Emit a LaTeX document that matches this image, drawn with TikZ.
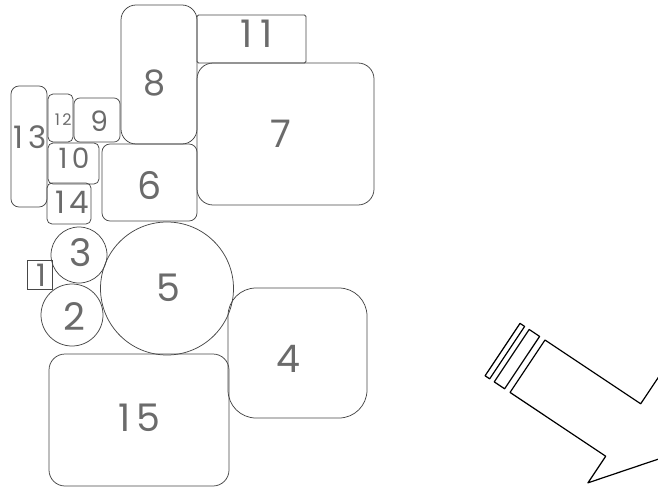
\documentclass[tikz,border=0pt]{standalone}
\usepackage{fontspec}
\setmainfont{Poppins}
\newfontfamily\digitfont{Poppins}[LetterSpace=15]
\begin{document}
\begin{tikzpicture}[x=1pt,y=-1pt,
  outline/.style={draw=black!72, line width=0.75pt, inner sep=0pt, outer sep=0pt},
  rbox/.style={outline, rectangle},
  rnd/.style={outline, circle},
  num/.style={inner sep=0pt, xshift=0.075*#1 pt, text=black!58, font=\digitfont\fontsize{#1}{#1}\selectfont},
  num/.default=38,
  arrowline/.style={draw=black, line width=1.2pt, line join=round}]
\useasboundingbox (0,0) rectangle (658,487);
\clip (0,0) rectangle (658,487);

% rounded blocks
\node[rbox, minimum width=25pt,  minimum height=29pt]                      (n1)  at (39.5,274.5) {};
\node[rnd,  minimum size=62pt]                                             (n2)  at (72,315) {};
\node[rnd,  minimum size=56pt]                                             (n3)  at (79,255) {};
\node[rbox, minimum width=139pt, minimum height=130pt, rounded corners=28pt] (n4)  at (297.5,353) {};
\node[rnd,  minimum size=133pt]                                            (n5)  at (167,288.5) {};
\node[rbox, minimum width=95pt,  minimum height=77pt,  rounded corners=8pt]  (n6)  at (149.5,182.5) {};
\node[rbox, minimum width=177pt, minimum height=142pt, rounded corners=16pt] (n7)  at (285.5,134) {};
\node[rbox, minimum width=76pt,  minimum height=139pt, rounded corners=15pt] (n8)  at (159,74.5) {};
\node[rbox, minimum width=46pt,  minimum height=44pt,  rounded corners=6pt]  (n9)  at (97,120) {};
\node[rbox, minimum width=51pt,  minimum height=41pt,  rounded corners=5pt]  (n10) at (73.5,163.5) {};
\node[rbox, minimum width=109pt, minimum height=48pt,  rounded corners=1.5pt] (n11) at (251.5,39) {};
\node[rbox, minimum width=25pt,  minimum height=48pt,  rounded corners=5pt]  (n12) at (60.5,118) {};
\node[rbox, minimum width=36pt,  minimum height=121pt, rounded corners=8pt]  (n13) at (29,146.5) {};
\node[rbox, minimum width=44pt,  minimum height=41pt,  rounded corners=5pt]  (n14) at (69,203.5) {};
\node[rbox, minimum width=180pt, minimum height=132pt, rounded corners=16pt] (n15) at (139,420) {};

% block numbers
\node[num=31] (t1)  at (39,275)  {1};
\node[num]    (t2)  at (72,317)  {2};
\node[num]    (t3)  at (78,253)  {3};
\node[num]    (t4)  at (286,359) {4};
\node[num]    (t5)  at (166,288) {5};
\node[num]    (t6)  at (147,186) {6};
\node[num]    (t7)  at (278,134) {7};
\node[num=35] (t8)  at (152,83)  {8};
\node[num=28] (t9)  at (97,121)  {9};
\node[num=28] (t10) at (72,158)  {10};
\node[num]    (t11) at (254,34)  {1\kern8pt 1};
\node[num=16] (t12) at (62,120)  {12};
\node[num=31] (t13) at (28,137)  {13};
\node[num=31] (t14) at (70,202)  {14};
\node[num]    (t15) at (137,418) {15};

% big arrow with two bands at its tail
\begin{scope}[shift={(545,340)}, rotate=-33.7]
  \draw[arrowline] (0,0) -- (115,0) -- (115,-32) -- (164,31.5) -- (115,95)
        -- (115,63) -- (0,63) -- cycle;
  \draw[arrowline] (-19,0) rectangle (-6.5,63);
  \draw[arrowline] (-30,0) rectangle (-24.5,63);
\end{scope}
\end{tikzpicture}
\end{document}
